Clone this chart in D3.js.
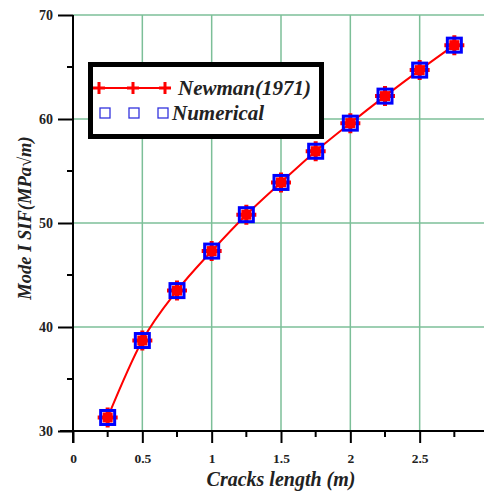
<!DOCTYPE html>
<html>
<head>
<meta charset="utf-8">
<script src="https://cdn.jsdelivr.net/npm/d3@7"></script>
<style>
  body { margin: 0; background: #fff; }
  svg { display: block; }
  text { font-family: "Liberation Serif", "DejaVu Serif", serif; }
</style>
</head>
<body>
<div id="chart"></div>
<script>
// crack lengths (m)
const crackLength = [0.25, 0.5, 0.75, 1.0, 1.25, 1.5, 1.75, 2.0, 2.25, 2.5, 2.75];
// Newman (1971) solution
const newmanSIF = [31.3, 38.7, 43.5, 47.3, 50.8, 53.9, 56.9, 59.6, 62.2, 64.7, 67.1];
// numerical results
const numericalSIF = [31.3, 38.7, 43.5, 47.3, 50.8, 53.9, 56.9, 59.6, 62.2, 64.7, 67.1];

const xTicks = [0, 0.5, 1, 1.5, 2, 2.5];
const xMinor = [0.25, 0.75, 1.25, 1.75, 2.25, 2.75];
const yTicks = [30, 40, 50, 60, 70];
const yMinor = [35, 45, 55, 65];

const W = 484, H = 492;
const gridColor = "#7cbf98";

const svg = d3.select("#chart")
    .append("svg")
    .attr("width", W)
    .attr("height", H);

// scales
const x = d3.scaleLinear().domain([0, 3]).range([73, 489]);
const y = d3.scaleLinear().domain([30, 70]).range([431, 15]);

// grid lines
svg.append("g")
    .selectAll("line")
    .data(xTicks.filter((d) => d > 0).concat([3]))
    .enter()
    .append("line")
    .attr("x1", (d) => x(d))
    .attr("x2", (d) => x(d))
    .attr("y1", y(70))
    .attr("y2", y(30))
    .attr("stroke", gridColor)
    .attr("stroke-width", 1.5);

svg.append("g")
    .selectAll("line")
    .data(yTicks.filter((d) => d > 30))
    .enter()
    .append("line")
    .attr("x1", x(0))
    .attr("x2", W)
    .attr("y1", (d) => y(d))
    .attr("y2", (d) => y(d))
    .attr("stroke", gridColor)
    .attr("stroke-width", 1.5);

// x axis
const xAxis = svg.append("g")
    .attr("transform", `translate(0,${y(30)})`)
    .call(d3.axisBottom(x).tickValues(xTicks).tickSize(12).tickPadding(10)
        .tickFormat((d) => d3.format("")(d)));
xAxis.select(".domain").attr("stroke-width", 2).attr("d", `M${x(0) - 13},0H${W}`);
xAxis.selectAll(".tick line").attr("stroke-width", 2);
xAxis.selectAll(".tick text")
    .attr("font-size", 13.5)
    .attr("font-weight", "bold")
    .attr("fill", "#222")
    .attr("font-family", "Liberation Serif, serif");

svg.append("g")
    .attr("transform", `translate(0,${y(30)})`)
    .selectAll("line")
    .data(xMinor)
    .enter()
    .append("line")
    .attr("x1", (d) => x(d))
    .attr("x2", (d) => x(d))
    .attr("y1", 0)
    .attr("y2", 6)
    .attr("stroke", "#000")
    .attr("stroke-width", 2);

// y axis
const yAxis = svg.append("g")
    .attr("transform", `translate(${x(0)},0)`)
    .call(d3.axisLeft(y).tickValues(yTicks).tickSize(15).tickPadding(5));
yAxis.select(".domain").attr("stroke-width", 2).attr("d", `M0,${y(70)}V${y(30) + 12}`);
yAxis.selectAll(".tick line").attr("stroke-width", 2);
yAxis.selectAll(".tick text")
    .attr("font-size", 14)
    .attr("font-weight", "bold")
    .attr("fill", "#222")
    .attr("font-family", "Liberation Serif, serif");

svg.append("g")
    .attr("transform", `translate(${x(0)},0)`)
    .selectAll("line")
    .data(yMinor)
    .enter()
    .append("line")
    .attr("x1", -6)
    .attr("x2", 0)
    .attr("y1", (d) => y(d))
    .attr("y2", (d) => y(d))
    .attr("stroke", "#000")
    .attr("stroke-width", 2);

// axis titles
svg.append("text")
    .attr("x", 281)
    .attr("y", 486)
    .attr("text-anchor", "middle")
    .attr("font-size", 20)
    .attr("font-weight", "bold")
    .attr("font-style", "italic")
    .attr("fill", "#222")
    .text("Cracks length (m)");

svg.append("text")
    .attr("transform", "translate(31,218) rotate(-90)")
    .attr("text-anchor", "middle")
    .attr("font-size", 18.5)
    .attr("font-weight", "bold")
    .attr("font-style", "italic")
    .attr("fill", "#222")
    .text("Mode I SIF(MPa\u221Am)");

// data
const newman = crackLength.map((d, i) => ({ x: d, y: newmanSIF[i] }));
const numerical = crackLength.map((d, i) => ({ x: d, y: numericalSIF[i] }));

const line = d3.line()
    .x((d) => x(d.x))
    .y((d) => y(d.y))
    .curve(d3.curveMonotoneX);

svg.append("path")
    .datum(newman)
    .attr("d", line)
    .attr("fill", "none")
    .attr("stroke", "#ff0000")
    .attr("stroke-width", 2);

// Newman markers: thick red plus
const plus = svg.append("g")
    .selectAll("g")
    .data(newman)
    .enter()
    .append("g")
    .attr("transform", (d) => `translate(${x(d.x)},${y(d.y)})`);
plus.append("path")
    .attr("d", "M-10,0H10M0,-10V10")
    .attr("stroke", "#ff0000")
    .attr("stroke-width", 4);
plus.append("rect")
    .attr("x", -5).attr("y", -5)
    .attr("width", 10).attr("height", 10)
    .attr("fill", "#ff0000");

// numerical markers: blue hollow squares
svg.append("g")
    .selectAll("rect")
    .data(numerical)
    .enter()
    .append("rect")
    .attr("x", (d) => x(d.x) - 7)
    .attr("y", (d) => y(d.y) - 7)
    .attr("width", 14)
    .attr("height", 14)
    .attr("fill", "none")
    .attr("stroke", "#0000ff")
    .attr("stroke-width", 3);

// legend
const legend = svg.append("g");
legend.append("rect")
    .attr("x", 90.5)
    .attr("y", 64.5)
    .attr("width", 231)
    .attr("height", 72)
    .attr("fill", "#fff")
    .attr("stroke", "#000")
    .attr("stroke-width", 5);

legend.append("line")
    .attr("x1", 98).attr("x2", 166)
    .attr("y1", 88).attr("y2", 88)
    .attr("stroke", "#ff0000").attr("stroke-width", 2);
legend.selectAll(".lp")
    .data([99, 133, 165])
    .enter()
    .append("path")
    .attr("class", "lp")
    .attr("d", (d) => `M${d - 6},88H${d + 6}M${d},82V94`)
    .attr("stroke", "#ff0000")
    .attr("stroke-width", 3);
legend.append("text")
    .attr("x", 178)
    .attr("y", 95)
    .attr("font-size", 21)
    .attr("font-weight", "bold")
    .attr("font-style", "italic")
    .attr("fill", "#222")
    .text("Newman(1971)");

legend.selectAll(".ls")
    .data([105, 134, 163])
    .enter()
    .append("rect")
    .attr("class", "ls")
    .attr("x", (d) => d - 5)
    .attr("y", 108)
    .attr("width", 10)
    .attr("height", 10)
    .attr("fill", "none")
    .attr("stroke", "#3333dd")
    .attr("stroke-width", 1.3);
legend.append("text")
    .attr("x", 172)
    .attr("y", 120)
    .attr("font-size", 21)
    .attr("font-weight", "bold")
    .attr("font-style", "italic")
    .attr("fill", "#222")
    .text("Numerical");
</script>
</body>
</html>
